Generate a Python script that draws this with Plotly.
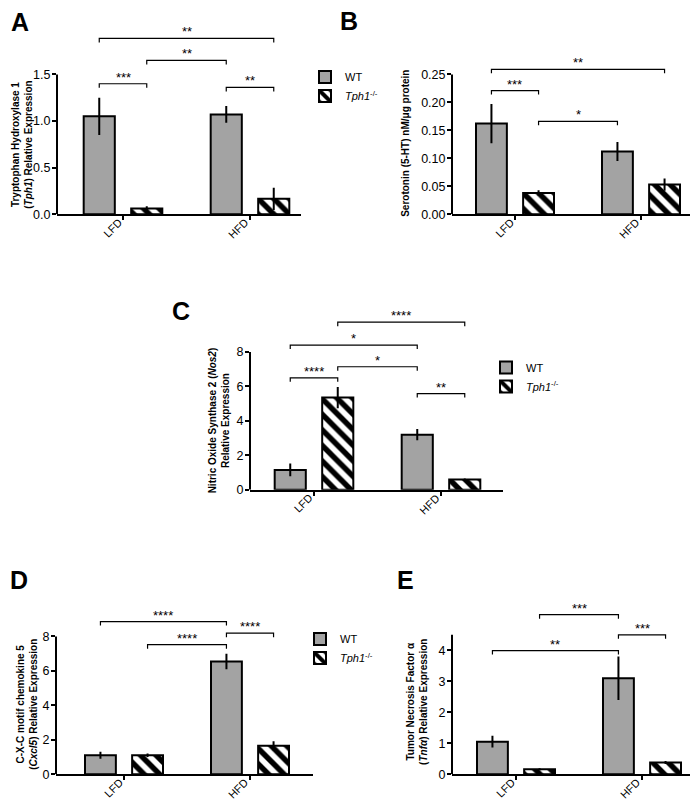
import plotly.graph_objects as go

# ---------------- data ----------------
categories = ["LFD", "HFD"]
series_names = ["WT", "<i>Tph1</i><sup>-/-</sup>"]

# Panel A: Tph1 relative expression
a_wt = [1.05, 1.07]
a_wt_err = [0.20, 0.09]
a_ko = [0.06, 0.165]
a_ko_err = [0.025, 0.12]
a_sig = [(0, 1, 1.40, "***"), (1, 2, 1.65, "**"), (0, 3, 1.886, "**"), (2, 3, 1.36, "**")]

# Panel B: Serotonin
b_wt = [0.162, 0.112]
b_wt_err = [0.035, 0.017]
b_ko = [0.038, 0.053]
b_ko_err = [0.005, 0.011]
b_sig = [(0, 1, 0.221, "***"), (1, 2, 0.166, "*"), (0, 3, 0.259, "**")]

# Panel C: Nos2
c_wt = [1.15, 3.2]
c_wt_err = [0.37, 0.33]
c_ko = [5.35, 0.6]
c_ko_err = [0.62, 0.05]
c_sig = [(0, 1, 6.5, "****"), (1, 2, 7.14, "*"), (0, 2, 8.4, "*"), (1, 3, 9.73, "****"), (2, 3, 5.58, "**")]

# Panel D: Cxcl5
d_wt = [1.1, 6.55]
d_wt_err = [0.2, 0.45]
d_ko = [1.1, 1.65]
d_ko_err = [0.1, 0.27]
d_sig = [(0, 2, 8.86, "****"), (1, 2, 7.52, "****"), (2, 3, 8.19, "****")]

# Panel E: Tnfa
e_wt = [1.05, 3.1]
e_wt_err = [0.19, 0.7]
e_ko = [0.16, 0.38]
e_ko_err = [0.03, 0.05]
e_sig = [(1, 2, 5.15, "***"), (2, 3, 4.5, "***"), (0, 2, 3.99, "**")]

# tick values
a_ticks = [0, 0.5, 1.0, 1.5]
b_ticks = [0, 0.05, 0.10, 0.15, 0.20, 0.25]
c_ticks = [0, 2, 4, 6, 8]
d_ticks = [0, 2, 4, 6, 8]
e_ticks = [0, 1, 2, 3, 4]

# ---------------- layout helpers ----------------
W, H = 698, 800
FONT = "Liberation Sans, Arial, sans-serif"
GRAY = "#a3a3a3"
OFF = 0.187
BW = 0.245


def px(x):
    return x / W


def py(y):
    return 1 - y / H


fig = go.Figure()
layout = dict(
    width=W, height=H, margin=dict(l=0, r=0, t=0, b=0),
    paper_bgcolor="white", plot_bgcolor="white",
    barmode="overlay", font=dict(family=FONT, color="black"),
    annotations=[], shapes=[],
)

panels = [
    # name, wt, wterr, ko, koerr, sig, ticks, fmt, left, right, y0, ytop_px, ytop_val, axis_top, domtop, cat0, cat1, legend
    ("A", a_wt, a_wt_err, a_ko, a_ko_err, a_sig, a_ticks, ".1f", 49, 293, 208, 67, 1.5, 1.5, 5, 115, 242, (297, 55)),
    ("B", b_wt, b_wt_err, b_ko, b_ko_err, b_sig, b_ticks, ".2f", 444, 695, 208, 67, 0.25, 0.25, 5, 507, 633, None),
    ("C", c_wt, c_wt_err, c_ko, c_ko_err, c_sig, c_ticks, "d", 242, 495, 486, 347, 8, 8, 290, 306, 433, (478, 348)),
    ("D", d_wt, d_wt_err, d_ko, d_ko_err, d_sig, d_ticks, "d", 48, 305, 773, 634, 8, 8, 590, 116, 242, (292, 622)),
    ("E", e_wt, e_wt_err, e_ko, e_ko_err, e_sig, e_ticks, "d", 444, 697, 773, 648, 4, 4.5, 590, 508, 634, None),
]

legend_count = 0
for i, (name, wt, wterr, ko, koerr, sig, ticks, fmt, left, right, y0, ytp, ytv, atop, domtop,
        c0, c1, leg) in enumerate(panels):
    n = i + 1
    xa = "x" if n == 1 else f"x{n}"
    ya = "y" if n == 1 else f"y{n}"
    unit = c1 - c0
    xr = [(left - c0) / unit, 1 + (right - c1) / unit]
    ymax = ytv * (y0 - domtop) / (y0 - ytp)
    upp = ytv / (y0 - ytp)  # data units per pixel

    legname = None
    if leg is not None:
        legend_count += 1
        legname = "legend" if legend_count == 1 else f"legend{legend_count}"
        layout[legname] = dict(
            x=px(leg[0]), y=py(leg[1]), xanchor="left", yanchor="top",
            bgcolor="rgba(0,0,0,0)", font=dict(size=11, family=FONT),
            tracegroupgap=0, itemwidth=30,
        )

    xs = list(range(len(categories)))
    fig.add_trace(go.Bar(
        x=[v - OFF for v in xs], y=wt, width=BW, name=series_names[0],
        marker=dict(color=GRAY, line=dict(color="black", width=2)),
        error_y=dict(type="data", array=wterr, color="black", thickness=2, width=0),
        xaxis=xa, yaxis=ya, showlegend=leg is not None,
        legend=legname if legname else "legend",
    ))
    fig.add_trace(go.Bar(
        x=[v + OFF for v in xs], y=ko, width=BW, name=series_names[1],
        marker=dict(color="white", line=dict(color="black", width=2),
                    pattern=dict(shape="\\", size=11, solidity=0.5,
                                 fgcolor="#000000", bgcolor="#ffffff",
                                 fgopacity=1, fillmode="overlay")),
        error_y=dict(type="data", array=koerr, color="black", thickness=2, width=0),
        xaxis=xa, yaxis=ya, showlegend=leg is not None,
        legend=legname if legname else "legend",
    ))

    # bar centers: 0 WT LFD, 1 KO LFD, 2 WT HFD, 3 KO HFD
    centers = [xs[0] - OFF, xs[0] + OFF, xs[1] - OFF, xs[1] + OFF]
    tick = 4 * upp
    for (b0, b1, lvl, txt) in sig:
        xa0, xa1 = centers[b0], centers[b1]
        fig.add_trace(go.Scatter(
            x=[xa0, xa0, xa1, xa1], y=[lvl - tick, lvl, lvl, lvl - tick],
            mode="lines", line=dict(color="black", width=1.2),
            xaxis=xa, yaxis=ya, showlegend=False, hoverinfo="skip",
        ))
        layout["annotations"].append(dict(
            x=(xa0 + xa1) / 2, y=lvl, xref=xa, yref=ya, text=txt,
            showarrow=False, yanchor="bottom", yshift=-3,
            font=dict(size=13, family=FONT),
        ))

    # category labels, rotated, hanging just below each tick
    for xv, lab in zip(xs, categories):
        layout["annotations"].append(dict(
            x=xv, y=0, xref=xa, yref=ya, text=lab, textangle=-45,
            showarrow=False, xanchor="right", yanchor="top",
            xshift=4, yshift=1, font=dict(size=11, family=FONT),
        ))

    xkey = "xaxis" if n == 1 else f"xaxis{n}"
    ykey = "yaxis" if n == 1 else f"yaxis{n}"
    layout[xkey] = dict(
        domain=[px(left), px(right)], range=xr, anchor=ya,
        showline=True, linecolor="black", linewidth=2,
        tickvals=xs, showticklabels=False,
        ticks="outside", ticklen=4, tickwidth=1.5, tickcolor="black",
        showgrid=False, zeroline=False, fixedrange=True,
    )
    layout[ykey] = dict(
        domain=[py(y0), py(domtop)], range=[0, ymax], anchor=xa,
        showline=False, tickvals=ticks, tickformat=fmt,
        ticks="outside", ticklen=4, tickwidth=1.5, tickcolor="black",
        ticklabelstandoff=-1,
        showgrid=False, zeroline=False, tickfont=dict(size=12.5, family=FONT),
        fixedrange=True,
    )
    # y axis line (only up to the top tick)
    layout["shapes"].append(dict(
        type="line", xref=f"{xa} domain", yref=ya, x0=0, x1=0, y0=0, y1=atop,
        line=dict(color="black", width=2),
    ))

# y axis titles
titles = [
    ("<b>Tryptophan Hydroxylase 1<br>(<i>Tph1</i>) Relative Expression</b>", 14, 138),
    ("<b>Serotonin (5-HT) nM/\u03bcg protein</b>", 398, 137),
    ("<b>Nitric Oxide Synthase 2 (<i>Nos2</i>)<br>Relative Expression</b>", 211, 416),
    ("<b>C-X-C motif chemokine 5<br>(<i>Cxcl5</i>) Relative Expression</b>", 19, 703),
    ("<b>Tumor Necrosis Factor \u03b1<br>(<i>Tnf\u03b1</i>) Relative Expression</b>", 409, 700),
]
for t, x, y in titles:
    layout["annotations"].append(dict(
        x=px(x), y=py(y), xref="paper", yref="paper", text=t, textangle=-90,
        showarrow=False, xanchor="center", yanchor="middle",
        font=dict(size=10, family=FONT),
    ))

# panel letters
letters = [("A", 12, 14), ("B", 341, 13), ("C", 173, 306), ("D", 11, 577), ("E", 397, 577)]
for t, x, y in letters:
    layout["annotations"].append(dict(
        x=px(x), y=py(y), xref="paper", yref="paper", text=f"<b>{t}</b>",
        showarrow=False, xanchor="center", yanchor="middle",
        font=dict(size=25, family=FONT),
    ))

fig.update_layout(**layout)
fig.write_html("out.html")
